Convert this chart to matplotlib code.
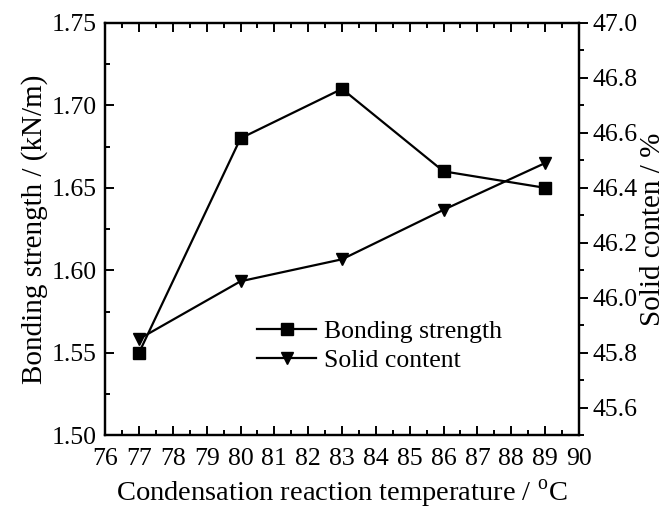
import matplotlib
matplotlib.use("Agg")
import matplotlib.pyplot as plt
from matplotlib.ticker import MultipleLocator

# data
temperatura = [77, 80, 83, 86, 89]
bonding = [1.55, 1.68, 1.71, 1.66, 1.65]
solid = [45.85, 46.06, 46.14, 46.32, 46.49]

plt.rcParams['font.family'] = ['Liberation Serif', 'DejaVu Serif']
plt.rcParams['mathtext.fontset'] = 'custom'
plt.rcParams['mathtext.rm'] = 'Liberation Serif'
plt.rcParams['axes.linewidth'] = 1.6

fig = plt.figure(figsize=(6.7, 5.09), dpi=100)
ax = fig.add_axes([0.157, 0.145, 0.707, 0.81])
ax2 = ax.twinx()

l1, = ax.plot(temperatura, bonding, color='black', lw=1.6, marker='s', ms=8,
              label='Bonding strength')
l2, = ax2.plot(temperatura, solid, color='black', lw=1.6, marker='v', ms=9,
               label='Solid content')

ax.set_xlim(76, 90)
ax.set_ylim(1.50, 1.75)
ax2.set_ylim(45.5, 47.0)

ax.xaxis.set_major_locator(MultipleLocator(1))
ax.xaxis.set_minor_locator(MultipleLocator(0.5))
ax.yaxis.set_major_locator(MultipleLocator(0.05))
ax.yaxis.set_minor_locator(MultipleLocator(0.025))
ax2.set_yticks([45.6, 45.8, 46.0, 46.2, 46.4, 46.6, 46.8, 47.0])
ax2.yaxis.set_minor_locator(MultipleLocator(0.1))

fs = 18.5
ax.tick_params(axis='x', which='both', direction='in', top=True, labelsize=fs, pad=9)
ax.tick_params(axis='y', which='both', direction='in', left=True, right=False, labelsize=fs, pad=6)
ax.tick_params(which='major', length=6.5, width=1.4)
ax.tick_params(which='minor', length=3.5, width=1.4)
ax2.tick_params(axis='y', which='both', direction='out', labelsize=fs, pad=3)
ax2.tick_params(which='major', length=6.5, width=1.4)
ax2.tick_params(which='minor', length=3.5, width=1.4)

ax.yaxis.set_major_formatter(plt.FormatStrFormatter('%.2f'))
ax2.yaxis.set_major_formatter(plt.FormatStrFormatter('%.1f'))

ax.set_xlabel(r'Condensation reaction temperature / $^{\rm o}$C', fontsize=20.5, labelpad=6)
ax.set_ylabel('Bonding strength / (kN/m)', fontsize=21, labelpad=3)
ax2.set_ylabel('Solid conten / %', fontsize=21, labelpad=2)

ax.legend([l1, l2], ['Bonding strength', 'Solid content'], loc='lower left',
          bbox_to_anchor=(0.31, 0.14), frameon=False, fontsize=18.5,
          handlelength=2.3, handletextpad=0.3, labelspacing=0.25,
          borderaxespad=0, borderpad=0.2)

fig.savefig('out.png', dpi=100)
